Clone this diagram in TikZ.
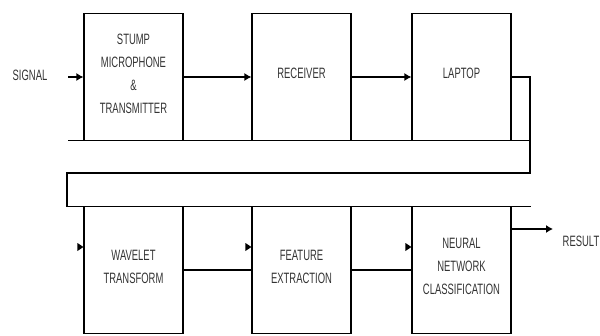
\documentclass[tikz,border=0pt]{standalone}
\usepackage{fontspec}
\setmainfont{Liberation Sans}
\usetikzlibrary{arrows.meta}
\newcommand\condtxt[1]{\scalebox{0.63}[1]{\begin{tabular}{@{}c@{}}#1\end{tabular}}}
\newcommand\boxtxt[1]{\raisebox{0pt}[\height][\dimexpr\depth+6pt\relax]{\condtxt{#1}}}
\tikzset{
  blockbox/.style={draw, line width=1.2pt, minimum width=99pt, minimum height=127pt,
    inner sep=0pt, text=black!80, font=\fontsize{15}{23}\selectfont},
  lbl/.style={inner sep=0pt, text=black!80, font=\fontsize{15}{23}\selectfont},
  arr/.style={-{Latex[length=7pt,width=8pt]}},
  wire/.style={line width=1.2pt},
}
\begin{document}
\begin{tikzpicture}[x=1pt,y=-1pt]
\useasboundingbox (0,0) rectangle (600,335);
% top row
\node[blockbox] (stump) at (133.5,77) {\boxtxt{STUMP\\MICROPHONE\\\&\\TRANSMITTER}};
\node[blockbox] (recv) at (301.5,77) {\boxtxt{RECEIVER}};
\node[blockbox] (laptop) at (461.5,77) {\boxtxt{LAPTOP}};
% bottom row
\node[blockbox] (wav) at (133.5,270) {\boxtxt{WAVELET\\TRANSFORM}};
\node[blockbox] (feat) at (301.5,270) {\boxtxt{FEATURE\\EXTRACTION}};
\node[blockbox] (neur) at (461.5,270) {\boxtxt{NEURAL\\NETWORK\\CLASSIFICATION}};
% labels
\node[lbl] (sig) at (30,76) {\condtxt{SIGNAL}};
\node[lbl] (res) at (581,242) {\condtxt{RESULT}};
% coordinates
\coordinate (sigstart) at (68,77);
\coordinate (lineL) at (68,140.5);
\coordinate (turn) at (530,77);
\coordinate (bandTR) at (530,173);
\coordinate (bandTL) at (67,173);
\coordinate (bandBL) at (67,206.5);
\coordinate (bandBR) at (531,206.5);
\coordinate (resend) at (553,229);
\coordinate (ahy) at (0,247);
% connectors top
\draw[wire,arr] (sigstart) -- (stump.west);
\draw[wire,arr] (stump.east) -- (recv.west);
\draw[wire,arr] (recv.east) -- (laptop.west);
\draw[wire] (lineL) -- (lineL -| turn);
\draw[wire] (laptop.east) -- (turn) -- (bandTR) -- (bandTL) -- (bandBL) -- (bandBR);
% connectors bottom
\draw[wire] (wav.east) -- (feat.west);
\draw[wire] (feat.east) -- (neur.west);
\draw[wire,arr] (neur.east |- resend) -- (resend);
% solitary arrowheads
\foreach \b in {wav,feat,neur}{
  \fill (\b.west |- ahy) -- ++(-6,-4) -- ++(0,8) -- cycle;
}
\end{tikzpicture}
\end{document}
